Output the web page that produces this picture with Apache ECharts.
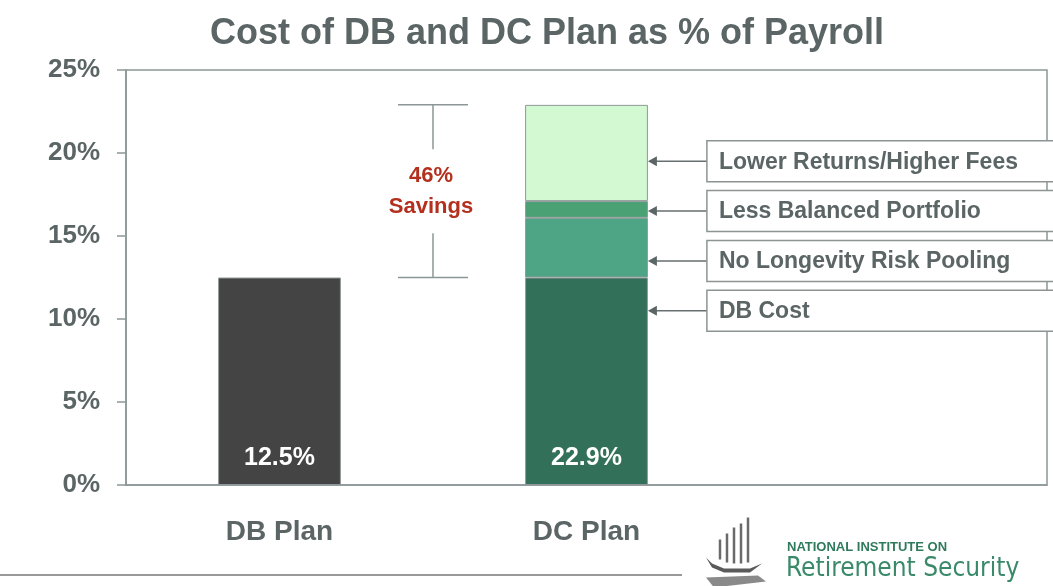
<!DOCTYPE html>
<html>
<head>
<meta charset="utf-8">
<script src="https://cdn.jsdelivr.net/npm/echarts@6/dist/echarts.min.js"></script>
<style>
  html, body { margin: 0; padding: 0; background: #fff; }
  #main { width: 1053px; height: 586px; }
</style>
</head>
<body>
<div id="main"></div>
<script>
// 数据
const categories = ['DB Plan', 'DC Plan', ''];
const yTicks = [0, 5, 10, 15, 20, 25];
const dbPlan = [12.5, '-', '-'];
const dcDbCost = ['-', 12.5, '-'];
const dcLongevity = ['-', 3.6, '-'];
const dcPortfolio = ['-', 1.0, '-'];
const dcFees = ['-', 5.8, '-'];
const calloutLabels = ['Lower Returns/Higher Fees', 'Less Balanced Portfolio', 'No Longevity Risk Pooling', 'DB Cost'];
const calloutLevels = [19.5, 16.5, 13.5, 10.5];
const savingsRange = [12.5, 22.9];
const savingsText = '46%\nSavings';

const grayText = '#5b6565';
const axisGray = '#8c9696';
const font = 'Liberation Sans, Arial, sans-serif';
const dcTotal = dcDbCost[1] + dcLongevity[1] + dcPortfolio[1] + dcFees[1];

const myChart = echarts.init(document.getElementById('main'));

function barSeries(name, data, color) {
  return {
    name: name,
    type: 'bar',
    stack: 'total',
    barWidth: '40%',
    data: data,
    itemStyle: { color: color, borderColor: '#8f9898', borderWidth: 1 }
  };
}

const valueLabel = {
  show: true,
  position: 'insideBottom',
  distance: 14,
  color: '#fff',
  fontSize: 25,
  fontWeight: 'bold',
  fontFamily: font
};

const series = [
  Object.assign(barSeries('DB Plan', dbPlan, '#444444'), {
    label: Object.assign({}, valueLabel, { formatter: p => p.value + '%' })
  }),
  Object.assign(barSeries('DB Cost', dcDbCost, '#33705a'), {
    label: Object.assign({}, valueLabel, { formatter: () => dcTotal.toFixed(1) + '%' })
  }),
  barSeries('No Longevity Risk Pooling', dcLongevity, '#4ea586'),
  barSeries('Less Balanced Portfolio', dcPortfolio, '#4aa274'),
  barSeries('Lower Returns/Higher Fees', dcFees, '#d3f9d3'),
  // 46% savings 括号
  {
    type: 'custom',
    z: 5,
    silent: true,
    clip: false,
    data: [[0, savingsRange[0], savingsRange[1]]],
    encode: { x: 0, y: [1, 2] },
    renderItem: function (params, api) {
      const bottom = api.coord([api.value(0), api.value(1)]);
      const top = api.coord([api.value(0), api.value(2)]);
      const x = bottom[0] + api.size([1, 0])[0] / 2;
      const mid = (top[1] + bottom[1]) / 2;
      const cap = 35, gap = 42;
      const ls = { stroke: axisGray, lineWidth: 1.5 };
      return {
        type: 'group',
        children: [
          { type: 'line', shape: { x1: x - cap, y1: top[1], x2: x + cap, y2: top[1] }, style: ls },
          { type: 'line', shape: { x1: x - cap, y1: bottom[1], x2: x + cap, y2: bottom[1] }, style: ls },
          { type: 'line', shape: { x1: x, y1: top[1], x2: x, y2: mid - gap }, style: ls },
          { type: 'line', shape: { x1: x, y1: mid + gap, x2: x, y2: bottom[1] }, style: ls },
          {
            type: 'text',
            style: {
              x: x - 2, y: mid, text: savingsText, align: 'center', verticalAlign: 'middle',
              fill: '#b3301e', fontSize: 22, fontWeight: 'bold', lineHeight: 31, fontFamily: font
            }
          }
        ]
      };
    }
  },
  // 标注框 + 箭头
  {
    type: 'custom',
    z: 6,
    silent: true,
    clip: false,
    data: calloutLevels.map(v => [1, v]),
    encode: { x: 0, y: 1 },
    renderItem: function (params, api) {
      const p = api.coord([api.value(0), api.value(1)]);
      const band = api.size([1, 0])[0];
      const barRight = p[0] + band * 0.2;
      const boxLeft = barRight + 59;
      const y = p[1];
      return {
        type: 'group',
        children: [
          { type: 'line', shape: { x1: barRight + 6, y1: y, x2: boxLeft, y2: y }, style: { stroke: '#666e6e', lineWidth: 1.5 } },
          { type: 'polygon', shape: { points: [[barRight, y], [barRight + 9, y - 5], [barRight + 9, y + 5]] }, style: { fill: '#5b6565' } },
          { type: 'rect', shape: { x: boxLeft, y: y - 20.5, width: 380, height: 41 }, style: { fill: '#fff', stroke: '#8c9494', lineWidth: 1.5 } },
          {
            type: 'text',
            style: {
              x: boxLeft + 12, y: y + 1, text: calloutLabels[params.dataIndex], verticalAlign: 'middle',
              fill: grayText, fontSize: 23, fontWeight: 'bold', fontFamily: font
            }
          }
        ]
      };
    }
  }
];

const option = {
  animation: false,
  backgroundColor: '#fff',
  textStyle: { fontFamily: font },
  title: {
    text: 'Cost of DB and DC Plan as % of Payroll',
    left: 205,
    top: 11,
    textStyle: { color: grayText, fontSize: 36, fontWeight: 'bold' }
  },
  grid: {
    left: 126,
    right: 6,
    top: 70,
    bottom: 101,
    show: true,
    borderColor: axisGray,
    borderWidth: 1.5
  },
  xAxis: {
    type: 'category',
    data: categories,
    axisLine: { lineStyle: { color: axisGray, width: 1.5 } },
    axisTick: { length: 10, lineStyle: { color: axisGray, width: 1.5 } },
    axisLabel: { color: grayText, fontSize: 28, fontWeight: 'bold', margin: 33 }
  },
  yAxis: {
    type: 'value',
    min: yTicks[0],
    max: yTicks[yTicks.length - 1],
    interval: 5,
    splitLine: { show: false },
    axisLine: { show: true, lineStyle: { color: axisGray, width: 1.5 } },
    axisTick: { show: true, length: 9, lineStyle: { color: axisGray, width: 1.5 } },
    axisLabel: { color: grayText, fontSize: 26, fontWeight: 'bold', margin: 26, formatter: '{value}%' }
  },
  graphic: [
    { type: 'line', shape: { x1: 0, y1: 575, x2: 682, y2: 575 }, style: { stroke: '#777', lineWidth: 1.5 } },
    // logo 图标
    {
      type: 'group', left: 706, top: 515,
      children: [
        { type: 'line', shape: { x1: 16, y1: 42, x2: 16, y2: 22 }, style: { stroke: '#6a6a6a', lineWidth: 2.5 } },
        { type: 'line', shape: { x1: 23, y1: 45, x2: 23, y2: 16 }, style: { stroke: '#6a6a6a', lineWidth: 2.5 } },
        { type: 'line', shape: { x1: 30, y1: 46, x2: 30, y2: 10 }, style: { stroke: '#6a6a6a', lineWidth: 2.5 } },
        { type: 'line', shape: { x1: 37, y1: 46, x2: 37, y2: 6 }, style: { stroke: '#6a6a6a', lineWidth: 2.5 } },
        { type: 'line', shape: { x1: 44, y1: 45, x2: 44, y2: 0 }, style: { stroke: '#6a6a6a', lineWidth: 2.5 } },
        { type: 'polygon', shape: { points: [[2, 40], [8, 50], [20, 55], [46, 55], [58, 46], [46, 51], [20, 51], [8, 46]] }, style: { fill: '#5a5a5a' } },
        { type: 'polygon', shape: { points: [[2, 60], [54, 58], [62, 64], [10, 70]] }, style: { fill: '#8a8a8a' } }
      ]
    },
    {
      type: 'text', left: 787, top: 541,
      style: { text: 'NATIONAL INSTITUTE ON', fill: '#2f7a5c', fontSize: 13, fontWeight: 'bold', fontFamily: font }
    },
    {
      type: 'text', left: 786, top: 556,
      style: { text: 'Retirement Security', fill: '#3a8a6a', fontSize: 26, fontFamily: 'Liberation Sans Narrow, DejaVu Sans Condensed, Arial, sans-serif' }
    }
  ],
  series: series
};
myChart.setOption(option);
</script>
</body>
</html>
